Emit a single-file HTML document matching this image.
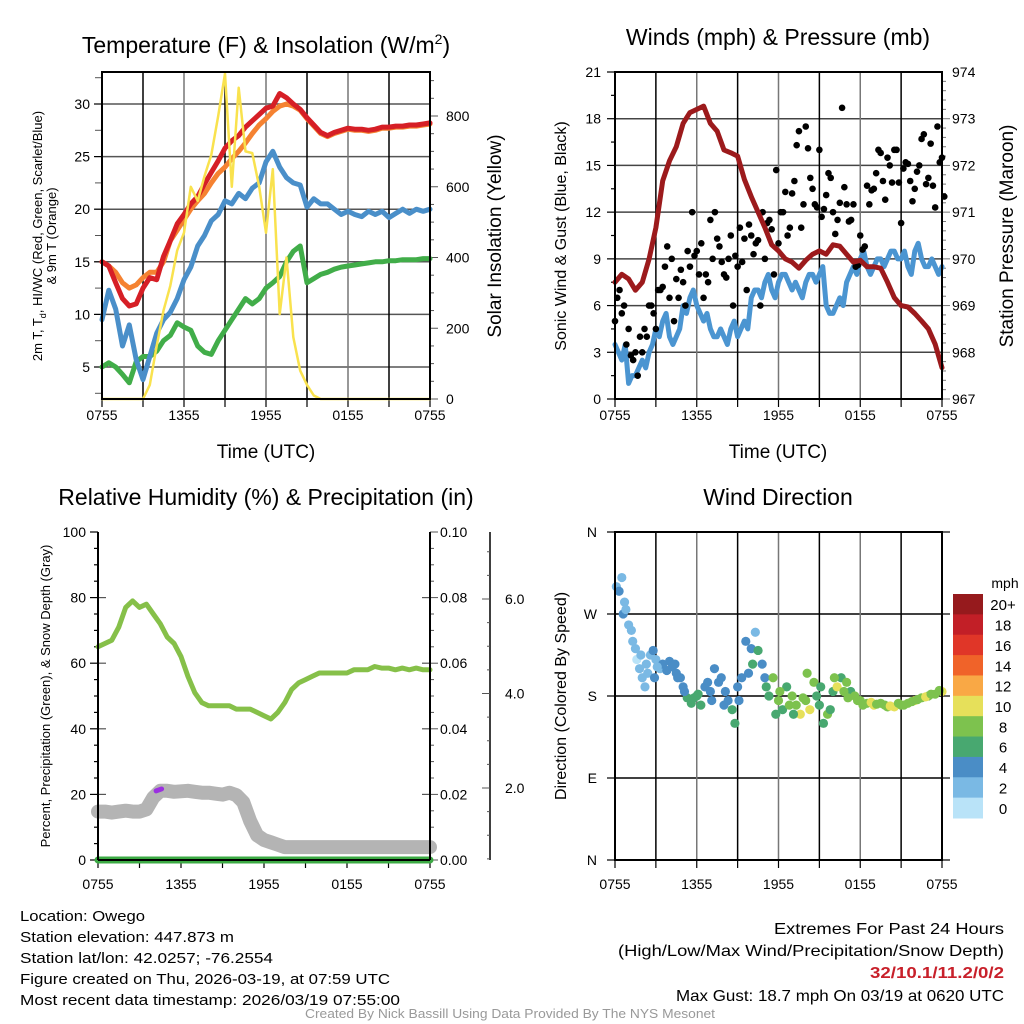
<!DOCTYPE html>
<html><head><meta charset="utf-8"><style>
html,body{margin:0;padding:0;background:#fff}
svg{display:block;font-family:"Liberation Sans",Arial,sans-serif}
</style></head><body>
<svg id="c" width="1024" height="1024" viewBox="0 0 1024 1024"></svg>
<script>
// ---------- data (30-min steps, hours since 0755 UTC) ----------
const tempRed=[15,14.6,13,11.5,10.8,11,12.5,13.5,13.3,15.5,17,18.6,19.5,20.5,21.2,22.4,23.5,24.6,25.8,26.5,27,27.8,28.4,29,29.6,29.8,31,30.6,30,29.5,28.7,28,27.3,27,27.3,27.5,27.7,27.6,27.6,27.5,27.6,27.8,27.8,27.9,27.9,28,28,28.1,28.2];
const tempOrange=[15,14.6,14,13,12.5,12.8,13.5,14,14,15,17,18,19,20,20.8,21.5,22.5,23.4,24,24.8,25.5,26.3,27.2,28,28.6,29.3,29.8,30,29.8,29.4,28.6,27.9,27.2,26.9,27.2,27.4,27.6,27.5,27.5,27.4,27.5,27.7,27.7,27.8,27.8,27.9,27.9,28,28.1];
const tempBlue=[9.5,12.3,10.5,7,9,5.7,3.8,6,8.2,9.5,10.2,11.5,13.3,14.5,16.5,17.5,18.9,19.5,20.8,20.5,21.5,21,22,22.5,24.5,25.5,24,23,22.5,22.3,20.2,21,20.5,20.5,20,19.5,19.8,19.5,19.3,19.8,19.5,19.8,19.2,19.6,20,19.6,20,19.8,20];
const tempGreen=[5,5.4,5,4.3,3.5,5.5,6,6,6.5,7.5,8,9.2,8.8,8.5,7,6.4,6.2,7.5,8.5,9.5,10.5,11.5,11,11.5,12.5,13,13.6,15,16,16.5,13,13.4,13.8,14,14.3,14.5,14.6,14.7,14.8,14.9,15,15,15.1,15.1,15.2,15.2,15.2,15.3,15.3];
const solar=[0,0,0,0,0,0,0,40,150,250,320,420,470,600,560,630,690,800,920,600,880,700,695,600,470,650,240,400,175,80,40,10,0,0,0,0,0,0,0,0,0,0,0,0,0,0,0,0,0];
const windSonic=[3.5,2.5,1,1.5,2.5,3,4.5,5,4,4,6,6.5,6,5,4.5,4,4,4.5,4,5,6.5,7,7.5,7,7.5,8,7,7,7.5,8,8,6,5.5,6.5,7.5,8.5,9,8.5,8.5,9,9,9.5,9,8.5,9.5,9,8.5,8.5,8.5];
const windSonicNoise=[3,3.5,1.5,2,2,3.5,4,5.5,3.5,4.5,5.5,7,5.5,5.5,4,4.5,3.5,5,4.5,4.5,7,6.5,8,6.5,8,7.5,7.5,6.5,8,7.5,8.5,5.5,6,6,8,8,9.5,8,9,8.5,9.5,9,9.5,8,10,8.5,9,8,9];
const pressure=[969.5,969.67,969.57,969.33,969.5,970,970.67,971.67,972.1,972.4,972.9,973.13,973.2,973.27,972.9,972.73,972.33,972.27,972.2,971.7,971.33,971,970.67,970.3,970.17,970,969.93,969.8,969.97,970.1,970.17,970.1,970.3,970.27,970.1,969.93,969.97,969.83,969.83,969.8,969.5,969.17,969,968.97,968.83,968.67,968.5,968.17,967.67];
// gusts every 20 min, and a second set offset by 10 min
const gusts=[5,7,6,4.5,2.5,1.5,3,4,6,4.5,7,8.5,6.5,5,6.5,7.5,9.5,12,9.5,10,8,11.5,12,9.8,8,9,6,8.5,8.8,7,10.5,10,6,9,11.5,8,10,12,10.5,13.2,16.3,11,17.5,14.2,12.5,16,12.2,14.5,12,11.5,18.7,12.5,11.5,8.5,10.5,9.8,12.5,13.5,16,14,15.5,13.9,16,11.3,15.2,14,13.5,15,17,14.2,13.7,17.5,15.5];
const gusts2=[6.5,5.5,3.5,2.8,3,4,4.5,6,5.5,7,7.2,9.8,9,7.7,8.3,6,8.5,9.2,8,6.5,7.5,9,10.3,8.8,7.8,10.5,9.2,11,10.3,11.2,9.3,10.2,12,11.3,10.9,14.7,12,13.3,11,14,17.2,12.5,16.1,13.5,12.3,11.7,13.1,14.2,10.6,12.6,13.6,11.4,12.5,8.6,9.6,13.7,13.4,14.5,15.8,12.8,15,16,13.9,14.8,15.1,12.7,14.6,16.7,13.8,16.4,12.3,15.2,13];
const rh=[65,66,67,71,77,79,77,78,75,72,68,66,62,56,51,48,47,47,47,47,46,46,46,45,44,43,45,48,52,54,55,56,57,57,57,57,57,58,58,58,59,58.5,58.5,58,58.5,58,58.5,58,58];
const snow=[1.5,1.5,1.48,1.5,1.52,1.5,1.5,1.55,1.8,1.94,1.94,1.92,1.93,1.94,1.92,1.9,1.9,1.88,1.86,1.9,1.85,1.7,1.3,1.0,0.9,0.85,0.8,0.75,0.75,0.75,0.75,0.75,0.75,0.75,0.75,0.75,0.75,0.75,0.75,0.75,0.75,0.75,0.75,0.75,0.75,0.75,0.75,0.75,0.75];
const precip=[0,0,0,0,0,0,0,0,0,0,0,0,0,0,0,0,0,0,0,0,0,0,0,0,0,0,0,0,0,0,0,0,0,0,0,0,0,0,0,0,0,0,0,0,0,0,0,0,0];
const dirTimes=[0.1,0.3,0.5,0.7,0.6,0.8,1,1.2,1.5,1.6,1.8,2,2.2,2.4,2.6,2.8,3,3.3,3.5,4,4.2,4.5,4.8,5,5.3,5.6,6,6.3,6.6,7,7.3,7.6,8,8.3,8.6,9,9.3,9.6,10,10.3,10.5,10.8,11,11.3,11.6,12,12.3,12.6,13,13.3,13.6,14,14.3,14.6,15,15.3,15.6,16,16.3,16.6,17,17.3,17.6,18,18.5,19,19.5,20,20.5,21,21.5,22,22.5,23,23.5,24,
 1.3,1.9,2.3,2.9,3.1,3.8,4.4,4.6,5.1,5.8,6.1,6.8,7.1,7.8,8.1,8.8,9.1,9.8,10.1,11.1,11.8,12.1,12.8,13.1,13.8,14.1,14.8,15.1,15.8,16.1,16.8,17.1,17.8,18.2,18.8,19.2,19.8,20.2,20.8,21.2,21.8,22.2,22.8,23.2,23.8];
const dirDeg=[300,295,310,283,270,275,258,252,232,220,210,200,190,205,225,230,220,210,215,218,212,205,200,190,178,172,180,170,190,185,210,195,170,175,165,190,200,240,232,250,230,215,200,180,200,175,165,190,180,170,160,175,165,195,170,150,160,185,190,200,195,185,180,175,172,170,172,168,168,170,172,175,178,180,182,185,
 240,225,215,200,212,208,215,200,185,178,182,195,175,200,185,150,175,205,215,190,160,185,170,160,178,205,180,190,165,200,185,178,175,170,173,171,170,169,172,170,174,176,179,182,186];
const dirSpd=[2,3,2,2,3,2,2,2,1,0,1,1,1,2,2,4,2,2,4,4,4,4,4,4,6,6,6,6,4,4,4,4,4,4,6,4,4,4,4,2,6,4,4,6,8,8,6,6,8,8,10,8,10,8,6,6,8,6,10,6,8,6,8,8,8,10,8,8,10,8,8,10,8,8,8,10,
 2,2,2,4,2,4,4,4,4,6,6,4,4,4,4,6,4,4,6,6,6,8,8,6,8,8,6,6,6,8,8,8,8,8,10,8,8,10,8,8,8,8,10,8,8];
const cbLabels=["20+","18","16","14","12","10","8","6","4","2","0"];
const cbColors=["#961a1d","#c21f27","#e03628","#f06329","#f9a845","#e6e05a","#7dc24e","#48a870","#4a8dc6","#7ab9e4","#b9e3f8"];

// ---------- helpers ----------
const S=document.getElementById('c');const NS='http://www.w3.org/2000/svg';
function el(tag,at,parent){const e=document.createElementNS(NS,tag);for(const k in at)e.setAttribute(k,at[k]);(parent||S).appendChild(e);return e;}
function txt(x,y,s,size,anchor,extra){const e=el('text',Object.assign({x:x,y:y,'font-size':size,'text-anchor':anchor||'middle',fill:'#000'},extra||{}));e.textContent=s;return e;}
function lin(d0,d1,r0,r1){return v=>r0+(v-d0)/(d1-d0)*(r1-r0);}
function path(xs,ys,vals,X,Y,stroke,w,name){let d='';vals.forEach((v,i)=>{d+=(i?'L':'M')+X(xs[i]).toFixed(1)+','+Y(v).toFixed(1);});const p=el('path',{d:d,fill:'none',stroke:stroke,'stroke-width':w,'stroke-linejoin':'round','stroke-linecap':'round'});return p;}
const half=tempRed.map((_,i)=>i*0.5);
const quarter=windSonicNoise.map((_,i)=>i*0.5+0.25);
const xLabels=["0755","1355","1955","0155","0755"];
function timeAxis(X,y1,grid,y0,labelY){for(let h=0;h<=24;h+=3){const x=X(h);if(grid)el('line',{x1:x,y1:y0,x2:x,y2:y1,stroke:(h%6?'#000':'#777'),'stroke-width':1.5});el('line',{x1:x,y1:y1,x2:x,y2:y1+8,stroke:'#000','stroke-width':1.2});}
 xLabels.forEach((l,i)=>{const t=txt(X(i*6),labelY,l,14);});}

// ---------- Panel 1: Temperature ----------
(function(){const x0=102,x1=430,y0=72,y1=399;const X=lin(0,24,x0,x1);const Y=lin(5,30,367,104);const YS=lin(0,800,399,116);
 for(let v=5;v<=30;v+=5){el('line',{x1:x0,x2:x1,y1:Y(v),y2:Y(v),stroke:'#555','stroke-width':1.5});}
 timeAxis(X,y1,true,y0,420);
 for(let v=2.5;v<=32.5;v+=2.5){el('line',{x1:x0-7,x2:x0,y1:Y(v),y2:Y(v),stroke:'#555','stroke-width':1});}
 for(let v=5;v<=30;v+=5){el('line',{x1:x0-8,x2:x0,y1:Y(v),y2:Y(v),stroke:'#000','stroke-width':1.2});const t=txt(x0-12,Y(v)+5,String(v),14,'end');}
 for(let v=0;v<=900;v+=50){el('line',{x1:x1,x2:x1+(v%200?4:8),y1:YS(v),y2:YS(v),stroke:'#555','stroke-width':1});}
 for(let v=0;v<=800;v+=200){const t=txt(x1+16,YS(v)+5,String(v),14,'start');}
 path(half,half,tempGreen,X,Y,'#41ad49',5,'dewpoint-line');
 path(half,half,tempBlue,X,Y,'#4a8fc9',5,'windchill-line');
 path(half,half,tempOrange,X,Y,'#f58231',5,'temp-9m-line');
 path(half,half,tempRed,X,Y,'#d61f26',5,'temp-2m-line');
 path(half,half,solar,X,YS,'#f9e24e',2.5,'solar-line');
 el('rect',{x:x0,y:y0,width:x1-x0,height:y1-y0,fill:'none',stroke:'#000','stroke-width':2});
 const tt=txt(266,53,'',23);tt.innerHTML='Temperature (F) &amp; Insolation (W/m<tspan dy="-9" font-size="14">2</tspan><tspan dy="9">)</tspan>';
 const xt=txt(266,458,'Time (UTC)',19);
 const a=txt(0,0,'',13,'middle',{transform:'translate(42,236) rotate(-90)'});a.innerHTML='2m T, T<tspan dy="4" font-size="9">d</tspan><tspan dy="-4">, HI/WC (Red, Green, Scarlet/Blue)</tspan>';
 const b=txt(0,0,'& 9m T (Orange)',13,'middle',{transform:'translate(56,236) rotate(-90)'});
 const r=txt(0,0,'Solar Insolation (Yellow)',19,'middle',{transform:'translate(501,236) rotate(-90)'});
})();

// ---------- Panel 2: Winds & Pressure ----------
(function(){const x0=615,x1=942,y0=72,y1=399;const X=lin(0,24,x0,x1);const Y=lin(0,21,399,72);const YP=lin(967,974,399,72);
 for(let v=3;v<21;v+=3){el('line',{x1:x0,x2:x1,y1:Y(v),y2:Y(v),stroke:'#444','stroke-width':1.5});}
 timeAxis(X,y1,true,y0,420);
 for(let v=0;v<=21;v+=1.5){el('line',{x1:x0-(v%3?4:8),x2:x0,y1:Y(v),y2:Y(v),stroke:'#000','stroke-width':1.2});}
 for(let v=0;v<=21;v+=3){const t=txt(x0-14,Y(v)+5,String(v),14,'end');}
 for(let v=967;v<=974;v+=0.2){el('line',{x1:x1,x2:x1+(Math.abs(v-Math.round(v))<0.01?8:4),y1:YP(v),y2:YP(v),stroke:'#777','stroke-width':1});}
 for(let v=967;v<=974;v++){const t=txt(x1+10,YP(v)+5,String(v),14,'start');}
 // interleave smooth + noisy sonic wind
 const wt=[],wv=[];windSonic.forEach((v,i)=>{wt.push(half[i]);wv.push(v);if(i<windSonicNoise.length-1){wt.push(quarter[i]);wv.push(windSonicNoise[i]);}});
 path(wt,wt,wv,X,Y,'#4b95d1',5,'sonic-wind-line');
 gusts.forEach((v,i)=>{const c=el('circle',{cx:X(i/3),cy:Y(v),r:3.3,fill:'#000'});});
 gusts2.forEach((v,i)=>{const c=el('circle',{cx:X(i/3+1/6),cy:Y(v),r:3.3,fill:'#000'});});
 path(half,half,pressure,X,YP,'#9c1a1c',5,'pressure-line');
 el('rect',{x:x0,y:y0,width:x1-x0,height:y1-y0,fill:'none',stroke:'#000','stroke-width':2});
 const tt=txt(778,45,'Winds (mph) & Pressure (mb)',23);
 const xt=txt(778,458,'Time (UTC)',19);
 const a=txt(0,0,'Sonic Wind & Gust (Blue, Black)',16,'middle',{transform:'translate(566,236) rotate(-90)'});
 const b=txt(0,0,'Station Pressure (Maroon)',19,'middle',{transform:'translate(1013,236) rotate(-90)'});
})();

// ---------- Panel 3: RH & Precip ----------
(function(){const x0=98,x1=430,y0=532,y1=860;const X=lin(0,24,x0,x1);const Y=lin(0,100,860,532);const YR=lin(0,0.1,860,532);const YN=lin(0,2,882.5,788);
 timeAxis(X,y1,false,y0,889);
 for(let v=0;v<=100;v+=5){el('line',{x1:x0-(v%20?4:8),x2:x0,y1:Y(v),y2:Y(v),stroke:'#000','stroke-width':1.2});}
 for(let v=20;v<100;v+=20){el('line',{x1:x0,x2:x0+8,y1:Y(v),y2:Y(v),stroke:'#555','stroke-width':1.2});el('line',{x1:x1-8,x2:x1,y1:Y(v),y2:Y(v),stroke:'#555','stroke-width':1.2});}
 for(let v=0;v<=100;v+=20){const t=txt(x0-12,Y(v)+5,String(v),14,'end');}
 for(let v=0;v<=0.1001;v+=0.005){el('line',{x1:x1,x2:x1+(Math.round(v*1000)%20?4:8),y1:YR(v),y2:YR(v),stroke:'#555','stroke-width':1});}
 for(let k=0;k<=5;k++){const t=txt(x1+10,YR(k*0.02)+5,(k*0.02).toFixed(2),14,'start');}
 const ax=el('line',{x1:490,x2:490,y1:532,y2:860,stroke:'#000','stroke-width':1.5});
 for(let v=0.5;v<=7.5;v+=0.5){const y=YN(v);if(y<532||y>860)continue;el('line',{x1:490-(v%2?3:8),x2:490,y1:y,y2:y,stroke:'#555','stroke-width':1});}
 for(let v=2;v<=6;v+=2){const t=txt(505,YN(v)+5,v.toFixed(1),14,'start');}
 path(half,half,snow,X,YN,'#b4b4b4',14,'snow-depth-line');
 const pp=el('path',{d:'M'+X(4.2)+','+YN(1.94)+'L'+X(4.6)+','+YN(1.98),stroke:'#9b30e0','stroke-width':5,'stroke-linecap':'round',fill:'none'});
 path(half,half,rh,X,Y,'#86c049',5,'rh-line');
 path(half,half,precip,X,YR,'#3caa44',7,'precip-line');
 el('line',{x1:x0,x2:x0,y1:y0,y2:y1,stroke:'#000','stroke-width':2});el('line',{x1:x1,x2:x1,y1:y0,y2:y1,stroke:'#000','stroke-width':2});el('line',{x1:x0,x2:x1,y1:y1,y2:y1,stroke:'#000','stroke-width':2});
 const tt=txt(266,505,'Relative Humidity (%) & Precipitation (in)',23);
 const a=txt(0,0,'Percent, Precipitation (Green), & Snow Depth (Gray)',13,'middle',{transform:'translate(50,696) rotate(-90)'});
})();

// ---------- Panel 4: Wind Direction ----------
(function(){const x0=615,x1=942,y0=532,y1=860;const X=lin(0,24,x0,x1);const Y=lin(0,360,860,532);
 for(let d=90;d<360;d+=90){el('line',{x1:x0,x2:x1,y1:Y(d),y2:Y(d),stroke:'#000','stroke-width':1.5});}
 timeAxis(X,y1,true,y0,889);
 ['N','E','S','W','N'].forEach((l,i)=>{el('line',{x1:x0-8,x2:x0,y1:Y(i*90),y2:Y(i*90),stroke:'#000','stroke-width':1.2});const t=txt(x0-18,Y(i*90)+5,l,14,'end');});
 for(let d=0;d<=360;d+=90){el('line',{x1:x1,x2:x1+8,y1:Y(d),y2:Y(d),stroke:'#000','stroke-width':1.2});}
 dirTimes.forEach((t,i)=>{const ci=10-Math.min(10,Math.round(dirSpd[i]/2));const c=el('circle',{cx:X(t),cy:Y(dirDeg[i]),r:4.6,fill:cbColors[ci]});});
 el('rect',{x:x0,y:y0,width:x1-x0,height:y1-y0,fill:'none',stroke:'#000','stroke-width':2});
 const tt=txt(778,505,'Wind Direction',23);
 const a=txt(0,0,'Direction (Colored By Speed)',16,'middle',{transform:'translate(566,696) rotate(-90)'});
 const h=(818-594)/11;
 cbColors.forEach((c,i)=>{const r=el('rect',{x:953,y:594+i*h,width:30,height:h+0.5,fill:c});const t=txt(1003,594+i*h+h/2+6,cbLabels[i],15);});
 const m=txt(1005,588,'mph',14);
})();

// ---------- footer ----------
const leftLines=["Location: Owego","Station elevation: 447.873 m","Station lat/lon: 42.0257; -76.2554","Figure created on Thu, 2026-03-19, at 07:59 UTC","Most recent data timestamp: 2026/03/19 07:55:00"];
const leftW=[125,214,253,370,380];
leftLines.forEach((s,i)=>{const t=txt(20,921+i*21,s,15,'start',{textLength:leftW[i],lengthAdjust:'spacingAndGlyphs'});});
const e1=txt(1004,934,'Extremes For Past 24 Hours',16,'end',{textLength:230,lengthAdjust:'spacingAndGlyphs'});
const e2=txt(1004,956,'(High/Low/Max Wind/Precipitation/Snow Depth)',16,'end',{textLength:386,lengthAdjust:'spacingAndGlyphs'});
const e3=txt(1004,978,'32/10.1/11.2/0/2',16,'end',{fill:'#c8202a','font-weight':'bold',textLength:134,lengthAdjust:'spacingAndGlyphs'});
const e4=txt(1004,1001,'Max Gust: 18.7 mph On 03/19 at 0620 UTC',16,'end',{textLength:328,lengthAdjust:'spacingAndGlyphs'});
const cr=txt(510,1018,'Created By Nick Bassill Using Data Provided By The NYS Mesonet',13,'middle',{fill:'#999',textLength:410,lengthAdjust:'spacingAndGlyphs'});
</script>
</body></html>
